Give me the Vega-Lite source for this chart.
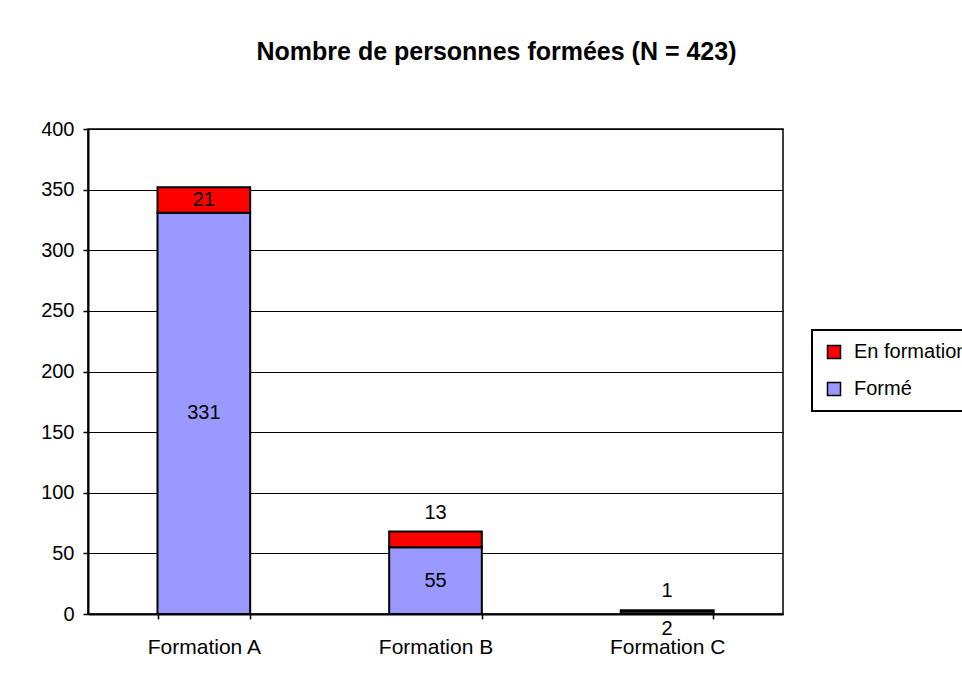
{
  "$schema": "https://vega.github.io/schema/vega-lite/v6.json",
  "autosize": {"type": "none"},
  "padding": {"left": 88, "top": 129, "right": 179, "bottom": 69},
  "width": 695,
  "height": 485,
  "background": "white",
  "title": {
    "text": "Nombre de personnes formées (N = 423)",
    "font": "Liberation Sans",
    "fontSize": 25,
    "fontWeight": "bold",
    "color": "black",
    "anchor": "middle",
    "dx": 61,
    "offset": 54
  },
  "config": {
    "font": "Liberation Sans",
    "view": {"stroke": "black", "strokeWidth": 1.5},
    "legend": {"strokeWidth": 2},
    "axis": {
      "domainColor": "black",
      "domainWidth": 2,
      "tickColor": "black",
      "tickWidth": 1.5,
      "labelColor": "black",
      "labelFont": "Liberation Sans",
      "labelFontSize": 20,
      "gridColor": "black",
      "gridWidth": 1,
      "gridOpacity": 1
    }
  },
  "data": {
    "values": [
      {"formation": "Formation A", "statut": "Formé", "ordre": 1, "n": 331},
      {"formation": "Formation A", "statut": "En formation", "ordre": 2, "n": 21},
      {"formation": "Formation B", "statut": "Formé", "ordre": 1, "n": 55},
      {"formation": "Formation B", "statut": "En formation", "ordre": 2, "n": 13},
      {"formation": "Formation C", "statut": "Formé", "ordre": 1, "n": 2},
      {"formation": "Formation C", "statut": "En formation", "ordre": 2, "n": 1}
    ]
  },
  "transform": [
    {"stack": "n", "groupby": ["formation"], "sort": [{"field": "ordre", "order": "ascending"}], "as": ["y0", "y1"]}
  ],
  "encoding": {
    "x": {
      "field": "formation",
      "type": "nominal",
      "sort": ["Formation A", "Formation B", "Formation C"],
      "scale": {"paddingInner": 0.6, "paddingOuter": 0.3},
      "axis": {
        "title": null,
        "labelAngle": 0,
        "tickBand": "extent",
        "tickSize": 5,
        "labelPadding": 17,
        "labelFontSize": 21,
        "grid": false
      }
    }
  },
  "layer": [
    {
      "mark": {"type": "bar", "stroke": "black", "strokeWidth": 2},
      "encoding": {
        "y": {
          "field": "y0",
          "type": "quantitative",
          "scale": {"domain": [0, 400], "nice": false},
          "axis": {
            "title": null,
            "values": [0, 50, 100, 150, 200, 250, 300, 350, 400],
            "grid": true,
            "tickSize": 5,
            "labelPadding": 9
          }
        },
        "y2": {"field": "y1"},
        "color": {
          "field": "statut",
          "type": "nominal",
          "scale": {"domain": ["En formation", "Formé"], "range": ["#FF0000", "#9999FF"]},
          "legend": {
            "title": null,
            "orient": "none",
            "legendX": 724,
            "legendY": 201,
            "strokeColor": "black",
            "fillColor": "white",
            "padding": 12,
            "symbolType": "square",
            "symbolSize": 169,
            "symbolStrokeColor": "black",
            "symbolStrokeWidth": 1.5,
            "symbolOpacity": 1,
            "labelFont": "Liberation Sans",
            "labelFontSize": 20,
            "labelColor": "black",
            "labelOffset": 10,
            "rowPadding": 17
          }
        }
      }
    },
    {
      "transform": [
        {"filter": "datum.n >= 20"},
        {"calculate": "(datum.y0 + datum.y1) / 2", "as": "ymid"}
      ],
      "mark": {"type": "text", "font": "Liberation Sans", "fontSize": 20, "color": "black", "baseline": "middle"},
      "encoding": {
        "y": {"field": "ymid", "type": "quantitative"},
        "text": {"field": "n", "type": "quantitative"}
      }
    },
    {
      "transform": [
        {"filter": "datum.n < 20 && datum.statut == 'En formation'"}
      ],
      "mark": {"type": "text", "font": "Liberation Sans", "fontSize": 20, "color": "black", "baseline": "middle", "dy": -19},
      "encoding": {
        "y": {"field": "y1", "type": "quantitative"},
        "text": {"field": "n", "type": "quantitative"}
      }
    },
    {
      "transform": [
        {"filter": "datum.n < 20 && datum.statut == 'Formé'"}
      ],
      "mark": {"type": "text", "font": "Liberation Sans", "fontSize": 20, "color": "black", "baseline": "middle", "dy": 15},
      "encoding": {
        "y": {"field": "y0", "type": "quantitative"},
        "text": {"field": "n", "type": "quantitative"}
      }
    }
  ]
}
